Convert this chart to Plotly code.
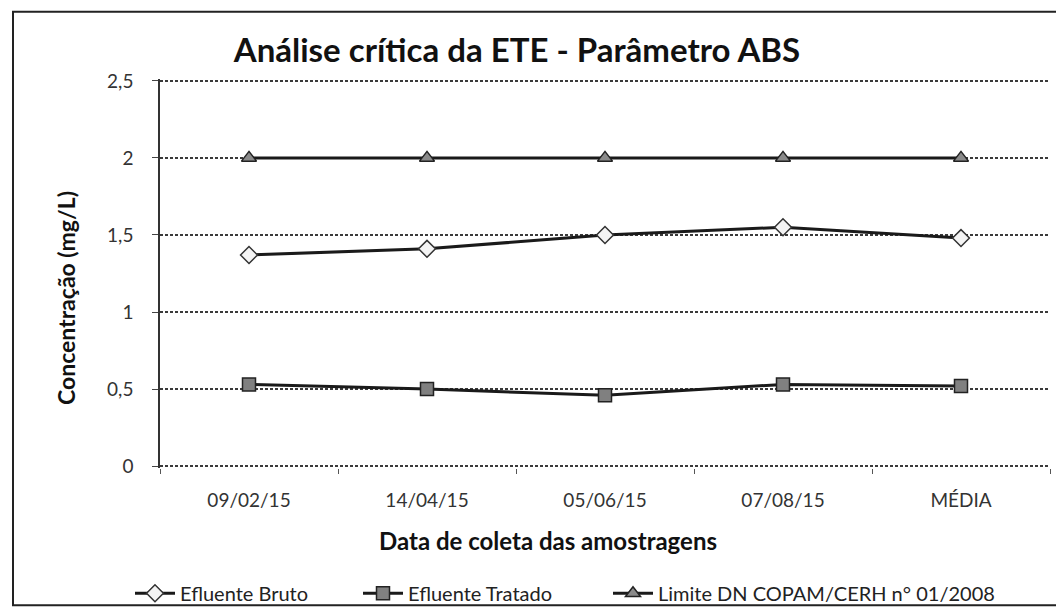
import plotly.graph_objects as go

categories = ["09/02/15", "14/04/15", "05/06/15", "07/08/15", "MÉDIA"]
efluente_bruto = [1.37, 1.41, 1.50, 1.55, 1.48]
efluente_tratado = [0.53, 0.50, 0.46, 0.53, 0.52]
limite = [2.0, 2.0, 2.0, 2.0, 2.0]
y_ticks = [0, 0.5, 1, 1.5, 2, 2.5]
y_tick_labels = ["0", "0,5", "1", "1,5", "2", "2,5"]

FONT = "Lato"
W, H = 1056, 609
L, R = 160, 1050
Y0_PX, Y25_PX = 466, 81          # pixel rows of y=0 and y=2.5
PAD = 0.012                      # small range padding so the 0 and 2.5 gridlines show
UNIT = (Y0_PX - Y25_PX) / 2.5
T = Y25_PX - PAD * UNIT
B = Y0_PX + PAD * UNIT


def px(x):
    return (x - L) / (R - L)


def py(y):
    return (B - y) / (B - T)


fig = go.Figure()
fig.add_trace(go.Scatter(
    x=categories, y=efluente_bruto, name="Efluente Bruto", mode="lines+markers",
    line=dict(color="#1a1a1a", width=3), legend="legend",
    marker=dict(symbol="diamond", size=13, color="#f4f4f4", line=dict(color="#333", width=1.5)),
))
fig.add_trace(go.Scatter(
    x=categories, y=efluente_tratado, name="Efluente Tratado", mode="lines+markers",
    line=dict(color="#1a1a1a", width=3), legend="legend2",
    marker=dict(symbol="square", size=13, color="#808080", line=dict(color="#222", width=1.5)),
))
fig.add_trace(go.Scatter(
    x=categories, y=limite, name="Limite DN COPAM/CERH n° 01/2008", mode="lines+markers",
    line=dict(color="#1a1a1a", width=3), legend="legend3",
    marker=dict(symbol="triangle-up", size=13, color="#8a8a8a", line=dict(color="#222", width=1.5)),
))

legend_common = dict(orientation="h", xanchor="left", y=py(593), yanchor="middle",
                     font=dict(size=20, family=FONT, color="#222"), bgcolor="rgba(0,0,0,0)",
                     itemwidth=40)

fig.update_layout(
    width=W, height=H,
    margin=dict(l=L, r=W - R, t=T, b=H - B, autoexpand=False),
    paper_bgcolor="white", plot_bgcolor="white",
    font=dict(family=FONT, color="#222", size=16),
    title=dict(text="<b>Análise crítica da ETE - Parâmetro ABS</b>", x=517 / W, xanchor="center",
               y=1 - 50 / H, yanchor="middle", font=dict(size=33, family=FONT, color="#111")),
    showlegend=True,
    legend=dict(x=px(130), **legend_common),
    legend2=dict(x=px(358), **legend_common),
    legend3=dict(x=px(608), **legend_common),
    xaxis=dict(type="category", range=[-0.5, 4.5], showgrid=False, showline=False, zeroline=False,
               ticks="outside", tickson="boundaries", ticklen=5, tickcolor="#555",
               ticklabelstandoff=19, tickfont=dict(size=19, family=FONT, color="#333")),
    yaxis=dict(range=[-PAD, 2.5 + PAD], tickvals=y_ticks, ticktext=y_tick_labels, showgrid=True,
               gridcolor="#3a3a3a", griddash="3px,2px", gridwidth=1.5, zeroline=False,
               showline=True, linecolor="#333", linewidth=1.5, ticks="outside", ticklen=6,
               tickcolor="#444", ticklabelstandoff=15, tickfont=dict(size=19, family=FONT, color="#333")),
    annotations=[
        dict(text="<b>Data de coleta das amostragens</b>", x=px(548), y=py(540), xref="paper", yref="paper",
             showarrow=False, xanchor="center", yanchor="middle", font=dict(size=24, family=FONT, color="#111")),
        dict(text="<b>Concentração (mg/L)</b>", x=px(66), y=py(298), xref="paper", yref="paper",
             showarrow=False, textangle=-90, xanchor="center", yanchor="middle",
             font=dict(size=23, family=FONT, color="#111")),
    ],
    shapes=[
        dict(type="rect", xref="paper", yref="paper", x0=px(13), x1=px(1062), y0=py(605), y1=py(12),
             line=dict(color="#222", width=2), layer="below"),
    ],
)

fig.write_html("out.html", config={"displayModeBar": False},
               post_script="document.body.style.margin='0';document.body.style.overflow='hidden';")
